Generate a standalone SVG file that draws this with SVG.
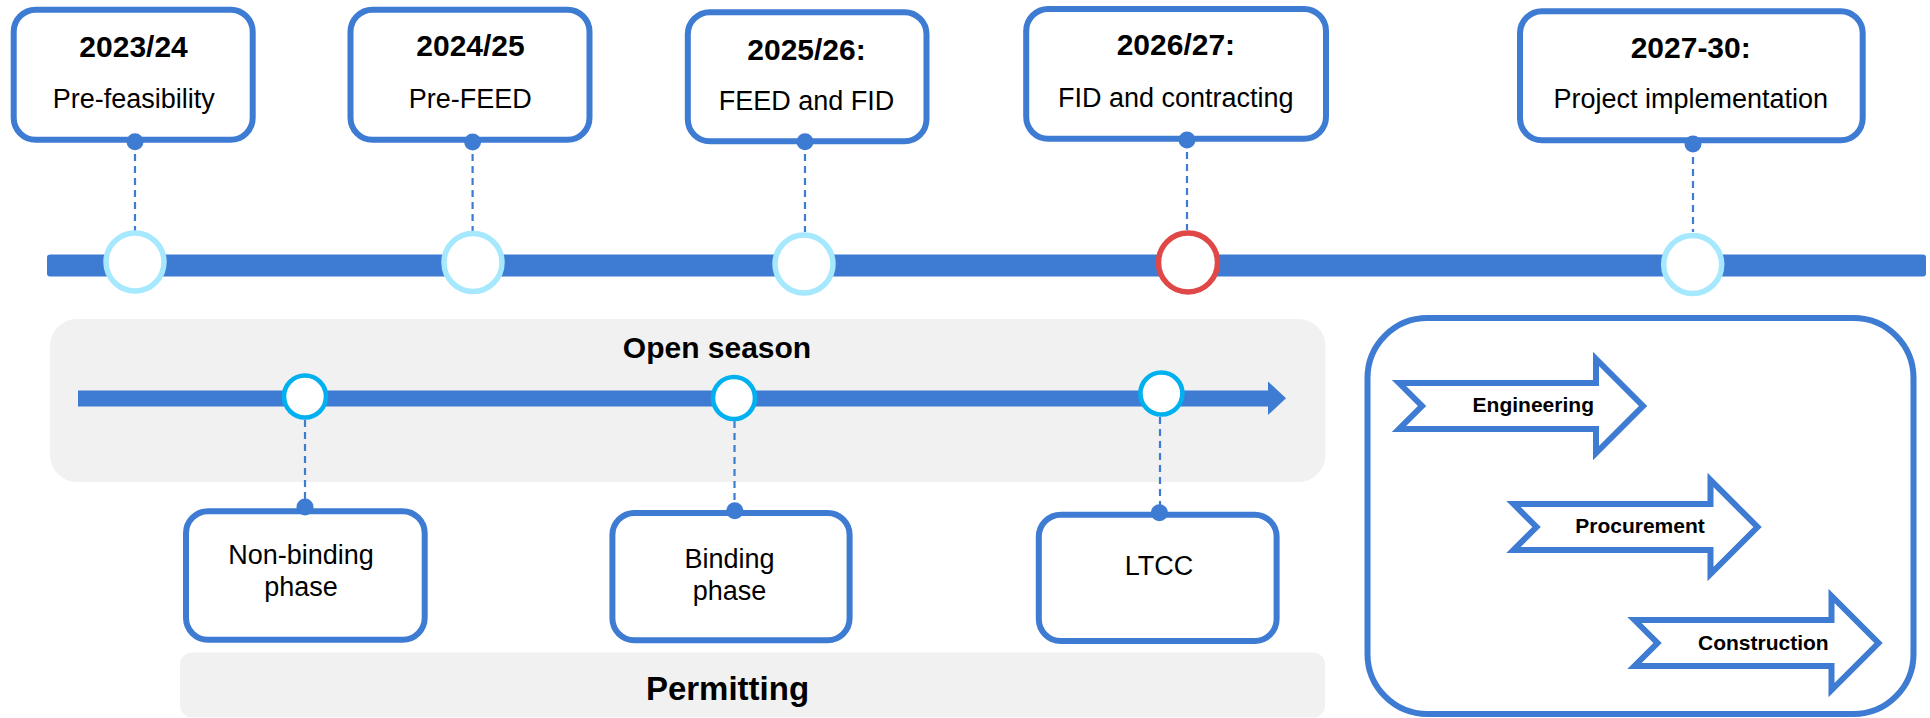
<svg xmlns="http://www.w3.org/2000/svg" xmlns:xlink="http://www.w3.org/1999/xlink" width="1930" height="718" viewBox="0 0 1930 718">
  <style>
    .box { fill: #ffffff; stroke: #3e7bd3; stroke-width: 6; }
    .panel { fill: #f1f1f1; stroke: none; }
    .bar { fill: #3e7bd3; }
    .dot { fill: #3e7bd3; }
    .dash { stroke: #3e7bd3; stroke-width: 2.2; stroke-dasharray: 7 5; fill: none; }
    .ms { fill: #ffffff; stroke: #a6e8fd; stroke-width: 5.5; }
    .ms-red { fill: #ffffff; stroke: #e04848; stroke-width: 5.5; }
    .os { fill: #ffffff; stroke: #00b0ef; stroke-width: 4.6; }
    .arrow { fill: #ffffff; stroke: #3e7bd3; stroke-width: 6; stroke-linejoin: miter; }
    text { font-family: "Liberation Sans", Arial, sans-serif; fill: #000000; text-anchor: middle; }
    .yr { font-size: 30px; font-weight: bold; }
    .lbl { font-size: 27px; }
    .ttl { font-weight: bold; }
    .arl { font-size: 21px; font-weight: bold; }
  </style>
  <defs>
    <path id="chev" d="M0,0 L23,23 L0,46 L197,46 L197,70 L244,23 L197,-24 L197,0 Z"/>
  </defs>

  <!-- background panels -->
  <g id="open-season-panel">
    <rect class="panel" x="50" y="319" width="1275.5" height="163" rx="27"/>
    <text class="ttl" x="717" y="358" font-size="30">Open season</text>
  </g>
  <g id="permitting-panel">
    <rect class="panel" x="180" y="652.5" width="1145" height="65" rx="12"/>
    <text class="ttl" x="727.5" y="700" font-size="33">Permitting</text>
  </g>

  <!-- timelines -->
  <g id="timelines">
    <rect class="bar" x="47" y="254.5" width="1879" height="22" rx="3"/>
    <rect class="bar" x="78" y="390.5" width="1192" height="16"/>
    <polygon class="bar" points="1268,381.5 1286,398.3 1268,415"/>
  </g>

  <!-- connectors -->
  <g id="connectors">
    <line class="dash" x1="135" y1="142" x2="135" y2="231"/>
    <line class="dash" x1="472.6" y1="142" x2="472.6" y2="231"/>
    <line class="dash" x1="805" y1="142" x2="805" y2="232"/>
    <line class="dash" x1="1187" y1="140" x2="1187" y2="230"/>
    <line class="dash" x1="1693" y1="145" x2="1693" y2="232"/>
    <line class="dash" x1="305" y1="420" x2="305" y2="506"/>
    <line class="dash" x1="734.5" y1="421" x2="734.5" y2="510"/>
    <line class="dash" x1="1160" y1="417" x2="1160" y2="512"/>
  </g>

  <!-- top boxes -->
  <g id="box-2023">
    <rect class="box" x="13.7" y="9.7" width="239" height="130" rx="22"/>
    <text class="yr" x="133.6" y="56.5">2023/24</text>
    <text class="lbl" x="133.8" y="108.3">Pre-feasibility</text>
    <circle class="dot" cx="135" cy="141.7" r="8.5"/>
  </g>
  <g id="box-2024">
    <rect class="box" x="350.5" y="9.7" width="239" height="130" rx="22"/>
    <text class="yr" x="470.5" y="56">2024/25</text>
    <text class="lbl" x="470.3" y="108.3">Pre-FEED</text>
    <circle class="dot" cx="472.6" cy="142" r="8.5"/>
  </g>
  <g id="box-2025">
    <rect class="box" x="687.8" y="12.3" width="238.7" height="129" rx="22"/>
    <text class="yr" x="806.5" y="60">2025/26:</text>
    <text class="lbl" x="806.5" y="110">FEED and FID</text>
    <circle class="dot" cx="805" cy="141.7" r="8.5"/>
  </g>
  <g id="box-2026">
    <rect class="box" x="1026.2" y="9" width="299.8" height="129.7" rx="22"/>
    <text class="yr" x="1175.9" y="55">2026/27:</text>
    <text class="lbl" x="1175.8" y="106.7">FID and contracting</text>
    <circle class="dot" cx="1187" cy="140" r="8.5"/>
  </g>
  <g id="box-2027">
    <rect class="box" x="1520" y="11.3" width="342.7" height="129" rx="22"/>
    <text class="yr" x="1690.7" y="58.3">2027-30:</text>
    <text class="lbl" x="1690.7" y="108.3">Project implementation</text>
    <circle class="dot" cx="1693" cy="144" r="8.5"/>
  </g>

  <!-- milestones on main timeline -->
  <g id="milestones">
    <circle class="ms" cx="135" cy="262" r="29"/>
    <circle class="ms" cx="473" cy="262.5" r="29"/>
    <circle class="ms" cx="804" cy="264" r="29"/>
    <circle class="ms-red" cx="1188" cy="262.5" r="29.5"/>
    <circle class="ms" cx="1692.7" cy="264.5" r="29"/>
  </g>

  <!-- open season milestones -->
  <g id="open-season-points">
    <circle class="os" cx="305" cy="396.5" r="21"/>
    <circle class="os" cx="734" cy="398" r="21"/>
    <circle class="os" cx="1161.4" cy="393.5" r="21"/>
  </g>

  <!-- lower boxes -->
  <g id="box-nonbinding">
    <rect class="box" x="186" y="511.3" width="238.7" height="128.4" rx="22"/>
    <text class="lbl" x="301" y="564">Non-binding</text>
    <text class="lbl" x="301" y="596">phase</text>
    <circle class="dot" cx="305" cy="507" r="8.5"/>
  </g>
  <g id="box-binding">
    <rect class="box" x="612.4" y="513" width="237.2" height="127.3" rx="22"/>
    <text class="lbl" x="729.6" y="568">Binding</text>
    <text class="lbl" x="729.6" y="600">phase</text>
    <circle class="dot" cx="734.8" cy="510.7" r="8.5"/>
  </g>
  <g id="box-ltcc">
    <rect class="box" x="1038.8" y="514.7" width="237.8" height="126.3" rx="22"/>
    <text class="lbl" x="1159" y="575">LTCC</text>
    <circle class="dot" cx="1159.4" cy="512.7" r="8.5"/>
  </g>

  <!-- EPC panel -->
  <g id="epc-panel">
    <rect class="box" x="1367.5" y="318" width="546" height="396" rx="60"/>
  </g>
  <g id="engineering">
    <use xlink:href="#chev" href="#chev" class="arrow" transform="translate(1399,383)"/>
    <text class="arl" x="1533.3" y="411.7">Engineering</text>
  </g>
  <g id="procurement">
    <use xlink:href="#chev" href="#chev" class="arrow" transform="translate(1513.5,504)"/>
    <text class="arl" x="1640" y="533.3">Procurement</text>
  </g>
  <g id="construction">
    <use xlink:href="#chev" href="#chev" class="arrow" transform="translate(1634.5,620)"/>
    <text class="arl" x="1763.3" y="650">Construction</text>
  </g>
</svg>
